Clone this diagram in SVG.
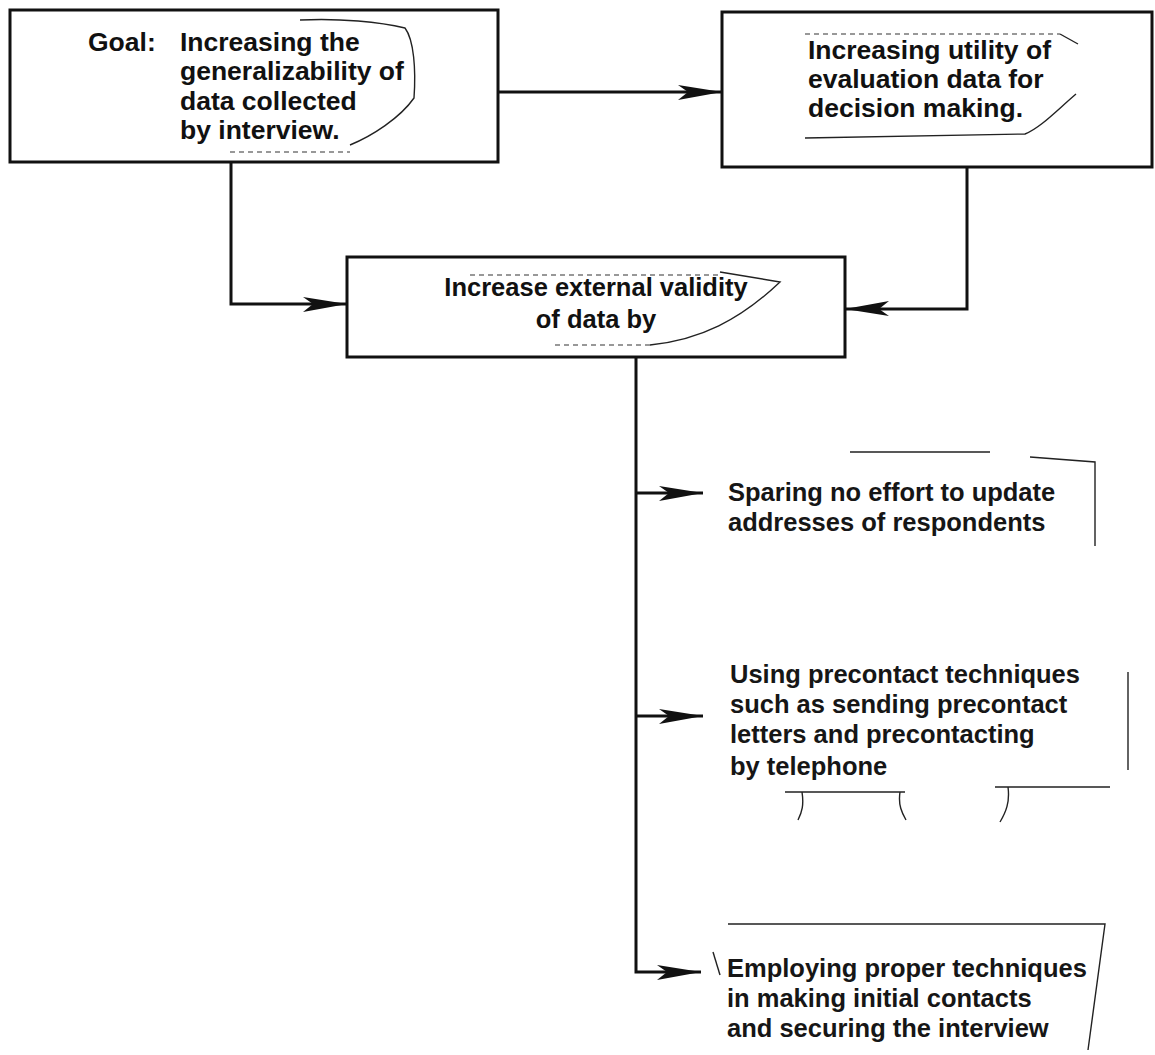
<svg xmlns="http://www.w3.org/2000/svg" width="1155" height="1055" viewBox="0 0 1155 1055">
  <style>
    .box { fill: #ffffff; stroke: #111111; stroke-width: 3; }
    .wire { fill: none; stroke: #111111; stroke-width: 3; }
    .edge { fill: none; stroke: #222222; stroke-width: 1.4; }
    .dash { fill: none; stroke: #333333; stroke-width: 1.2; stroke-dasharray: 5 4; }
    .head { font-family: "Liberation Sans", Arial, Helvetica, sans-serif; font-weight: bold; fill: #111111; font-size: 26.5px; }
    .mid { font-family: "Liberation Sans", Arial, Helvetica, sans-serif; font-weight: bold; fill: #111111; font-size: 25.5px; }
    .item { font-family: "Liberation Sans", Arial, Helvetica, sans-serif; font-weight: bold; fill: #161616; font-size: 25.5px; }
  </style>
  <defs>
    <marker id="barb" markerUnits="userSpaceOnUse" viewBox="-46 -10 48 20" refX="0" refY="0" markerWidth="48" markerHeight="20" orient="auto">
      <path d="M0,0 L-44,-7 L-34,0 L-44,8 Z" fill="#111111"/>
    </marker>
  </defs>

  <rect width="1155" height="1055" fill="#ffffff"/>

  <!-- Goal box -->
  <g id="goal">
    <rect class="box" x="10" y="10" width="488" height="152"/>
    <text class="head" x="88" y="51">Goal:</text>
    <text class="head" x="180" y="51">Increasing the</text>
    <text class="head" x="180" y="80">generalizability of</text>
    <text class="head" x="180" y="110">data collected</text>
    <text class="head" x="180" y="139">by interview.</text>
  </g>

  <!-- Utility box -->
  <g id="utility">
    <rect class="box" x="722" y="12" width="430" height="155"/>
    <text class="head" x="808" y="59">Increasing utility of</text>
    <text class="head" x="808" y="88">evaluation data for</text>
    <text class="head" x="808" y="117">decision making.</text>
  </g>

  <!-- External validity box -->
  <g id="validity">
    <rect class="box" x="347" y="257" width="498" height="100"/>
    <text class="mid" x="596" y="296" text-anchor="middle">Increase external validity</text>
    <text class="mid" x="596" y="328" text-anchor="middle">of data by</text>
  </g>

  <!-- Means listed under the validity box -->
  <g id="addresses">
    <text class="item" x="728" y="501">Sparing no effort to update</text>
    <text class="item" x="728" y="531">addresses of respondents</text>
  </g>
  <g id="precontact">
    <text class="item" x="730" y="683">Using precontact techniques</text>
    <text class="item" x="730" y="713">such as sending precontact</text>
    <text class="item" x="730" y="743">letters and precontacting</text>
    <text class="item" x="730" y="775">by telephone</text>
  </g>
  <g id="contacts">
    <text class="item" x="727" y="977">Employing proper techniques</text>
    <text class="item" x="727" y="1007">in making initial contacts</text>
    <text class="item" x="727" y="1037">and securing the interview</text>
  </g>

  <!-- Connectors -->
  <g id="connectors">
    <path class="wire" d="M498,92 H722" marker-end="url(#barb)"/>
    <path class="wire" d="M231,162 V304 H347" marker-end="url(#barb)"/>
    <path class="wire" d="M967,167 V309 H845" marker-end="url(#barb)"/>
    <path class="wire" d="M636,357 V972 H701" marker-end="url(#barb)"/>
    <path class="wire" d="M636,493 H703" marker-end="url(#barb)"/>
    <path class="wire" d="M636,716 H703" marker-end="url(#barb)"/>
  </g>

  <!-- Paste-up edges around the lettering -->
  <g id="paste-up">
    <path class="edge" d="M300,20 C340,18 380,22 405,28 C414,40 416,70 414,98 C400,118 372,136 350,145"/>
    <path class="dash" d="M230,152 H350"/>
    <path class="dash" d="M805,34 H1060"/>
    <path class="edge" d="M1060,34 L1078,44"/>
    <path class="edge" d="M1076,94 C1055,112 1040,128 1025,134 L805,138"/>
    <path class="dash" d="M470,275 H720"/>
    <path class="edge" d="M720,272 L780,282 C740,320 700,340 650,345"/>
    <path class="dash" d="M555,345 H650"/>
    <path class="edge" d="M850,452 H990 M1030,457 L1095,462 V546"/>
    <path class="edge" d="M1128,672 V770"/>
    <path class="edge" d="M785,792 H905 M802,792 C804,805 802,812 798,820 M900,792 C898,805 902,813 906,820 M995,787 H1110 M1008,787 C1010,802 1006,812 1000,822"/>
    <path class="edge" d="M728,924 H1105 L1088,1050"/>
    <path class="edge" d="M713,952 L720,975"/>
  </g>
</svg>
